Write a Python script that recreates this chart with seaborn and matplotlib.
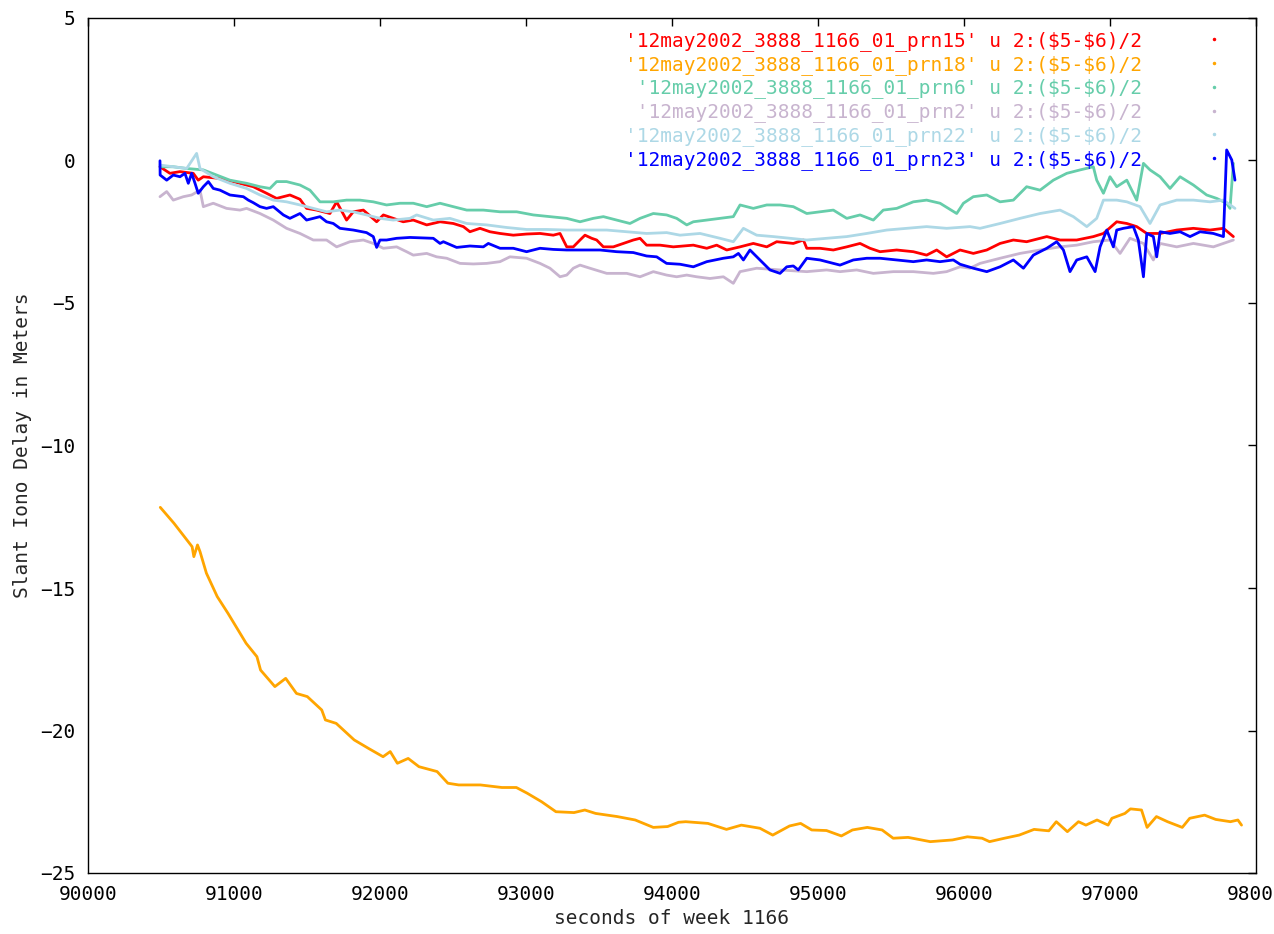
import seaborn as sns
import pandas as pd
from matplotlib import pyplot as plt
from matplotlib.lines import Line2D

sns.set_style("white")
plt.rcParams["font.family"] = ["DejaVu Sans Mono", "DejaVu Sans"]

# series names as they appear in the key (leading space keeps them right-aligned)
names = [r"'12may2002_3888_1166_01_prn15' u 2:(\$5-\$6)/2",
         r"'12may2002_3888_1166_01_prn18' u 2:(\$5-\$6)/2",
         r" '12may2002_3888_1166_01_prn6' u 2:(\$5-\$6)/2",
         r" '12may2002_3888_1166_01_prn2' u 2:(\$5-\$6)/2",
         r"'12may2002_3888_1166_01_prn22' u 2:(\$5-\$6)/2",
         r"'12may2002_3888_1166_01_prn23' u 2:(\$5-\$6)/2"]
colors = ["#ff0000", "#ffa500", "#66cdaa", "#c8b4cf", "#add8e6", "#0000ff"]

# prn15 (red)
t15 = [90493, 90561, 90630, 90721, 90755, 90790, 90904, 90995, 91086, 91132, 91223, 91292, 91383, 91452,
       91497, 91566, 91657, 91703, 91771, 91817, 91886, 91977, 92023, 92091, 92159, 92228, 92320, 92411,
       92502, 92571, 92616, 92685, 92753, 92822, 92913, 93004, 93096, 93187, 93233, 93279, 93324, 93370,
       93404, 93450, 93484, 93530, 93598, 93667, 93735, 93781, 93826, 93918, 94009, 94146, 94238, 94306,
       94375, 94466, 94557, 94649, 94717, 94831, 94900, 94923, 95014, 95105, 95197, 95288, 95356, 95425,
       95539, 95653, 95744, 95813, 95881, 95973, 96064, 96156, 96247, 96338, 96429, 96567, 96658, 96772,
       96886, 96955, 97046, 97115, 97183, 97252, 97343, 97457, 97571, 97685, 97777, 97845]
y15 = [-0.22, -0.45, -0.39, -0.45, -0.69, -0.57, -0.63, -0.74, -0.86, -0.92, -1.15, -1.33, -1.21, -1.36,
       -1.68, -1.74, -1.86, -1.45, -2.09, -1.80, -1.74, -2.15, -1.91, -2.03, -2.15, -2.09, -2.26, -2.15,
       -2.21, -2.32, -2.50, -2.38, -2.50, -2.56, -2.62, -2.58, -2.56, -2.62, -2.56, -3.03, -3.03, -2.79,
       -2.62, -2.73, -2.79, -3.03, -3.03, -2.91, -2.79, -2.73, -2.97, -2.97, -3.03, -2.97, -3.08, -2.97,
       -3.14, -3.03, -2.91, -3.03, -2.85, -2.91, -2.79, -3.08, -3.08, -3.14, -3.03, -2.91, -3.08, -3.20,
       -3.14, -3.20, -3.32, -3.14, -3.38, -3.14, -3.26, -3.14, -2.91, -2.79, -2.85, -2.67, -2.79, -2.79,
       -2.67, -2.56, -2.15, -2.21, -2.32, -2.56, -2.56, -2.44, -2.38, -2.44, -2.38, -2.67]

# prn18 (orange)
t18 = [90495, 90589, 90713, 90725, 90750, 90767, 90811, 90885, 90959, 91083, 91157, 91182, 91280, 91354,
       91428, 91502, 91601, 91626, 91700, 91823, 91922, 92021, 92070, 92119, 92193, 92267, 92391, 92465,
       92539, 92687, 92835, 92934, 93008, 93107, 93205, 93329, 93403, 93477, 93625, 93748, 93872, 93970,
       94045, 94094, 94246, 94373, 94475, 94602, 94690, 94805, 94881, 94957, 95058, 95160, 95236, 95338,
       95439, 95515, 95617, 95769, 95921, 96023, 96124, 96175, 96277, 96378, 96480, 96581, 96632, 96708,
       96784, 96835, 96911, 96987, 97013, 97102, 97140, 97216, 97254, 97318, 97394, 97495, 97546, 97648,
       97724, 97825, 97876, 97901]
y18 = [-12.17, -12.73, -13.55, -13.90, -13.49, -13.72, -14.48, -15.30, -15.89, -16.94, -17.41, -17.88,
       -18.46, -18.17, -18.70, -18.81, -19.28, -19.63, -19.75, -20.33, -20.63, -20.92, -20.74, -21.15,
       -20.98, -21.27, -21.44, -21.85, -21.91, -21.91, -22.00, -22.00, -22.20, -22.50, -22.85, -22.88,
       -22.79, -22.91, -23.02, -23.14, -23.40, -23.37, -23.22, -23.20, -23.26, -23.47, -23.32, -23.43,
       -23.67, -23.35, -23.26, -23.49, -23.51, -23.70, -23.49, -23.40, -23.49, -23.78, -23.75, -23.90,
       -23.84, -23.73, -23.78, -23.90, -23.78, -23.67, -23.47, -23.52, -23.20, -23.55, -23.20, -23.32,
       -23.14, -23.32, -23.08, -22.91, -22.75, -22.79, -23.40, -23.02, -23.20, -23.40, -23.08, -22.97,
       -23.12, -23.20, -23.14, -23.32]

# prn6 (green)
t6 = [90493, 90584, 90676, 90790, 90881, 90972, 91086, 91178, 91246, 91292, 91360, 91452, 91520, 91589,
      91680, 91771, 91862, 91954, 92045, 92137, 92228, 92320, 92411, 92502, 92594, 92708, 92822, 92936,
      93050, 93164, 93279, 93370, 93461, 93530, 93621, 93712, 93781, 93872, 93963, 94032, 94101, 94146,
      94238, 94329, 94420, 94466, 94557, 94649, 94740, 94831, 94923, 95014, 95105, 95197, 95288, 95379,
      95447, 95539, 95653, 95744, 95836, 95950, 95996, 96064, 96156, 96247, 96338, 96429, 96521, 96612,
      96704, 96795, 96886, 96909, 96955, 97000, 97046, 97115, 97183, 97229, 97274, 97343, 97411, 97480,
      97571, 97662, 97731, 97799, 97822, 97845]
y6 = [-0.22, -0.22, -0.28, -0.33, -0.51, -0.69, -0.80, -0.92, -0.98, -0.74, -0.74, -0.86, -1.04, -1.45,
      -1.45, -1.39, -1.39, -1.45, -1.56, -1.50, -1.50, -1.62, -1.50, -1.62, -1.74, -1.74, -1.80, -1.80,
      -1.91, -1.97, -2.03, -2.15, -2.03, -1.97, -2.09, -2.21, -2.03, -1.86, -1.91, -2.03, -2.26, -2.15,
      -2.09, -2.03, -1.97, -1.56, -1.68, -1.56, -1.56, -1.62, -1.86, -1.80, -1.74, -2.03, -1.91, -2.09,
      -1.74, -1.68, -1.45, -1.39, -1.50, -1.86, -1.50, -1.27, -1.21, -1.45, -1.39, -0.92, -1.04, -0.69,
      -0.45, -0.33, -0.22, -0.69, -1.15, -0.57, -0.92, -0.69, -1.39, -0.10, -0.33, -0.57, -0.98, -0.57,
      -0.86, -1.21, -1.33, -1.50, -1.68, -0.10]

# prn2 (lavender)
t2 = [90493, 90539, 90584, 90653, 90710, 90767, 90790, 90858, 90949, 91041, 91086, 91178, 91269, 91360,
      91452, 91543, 91634, 91703, 91794, 91886, 91954, 92023, 92114, 92182, 92228, 92320, 92388, 92457,
      92548, 92639, 92731, 92822, 92890, 93004, 93096, 93164, 93233, 93279, 93324, 93370, 93438, 93553,
      93690, 93781, 93872, 93963, 94032, 94101, 94169, 94260, 94352, 94420, 94466, 94580, 94740, 94923,
      95059, 95151, 95265, 95379, 95516, 95653, 95790, 95881, 95973, 96041, 96110, 96247, 96384, 96521,
      96658, 96772, 96886, 97000, 97069, 97137, 97229, 97297, 97343, 97457, 97571, 97708, 97845]
y2 = [-1.27, -1.09, -1.39, -1.27, -1.21, -1.04, -1.62, -1.50, -1.68, -1.74, -1.68, -1.86, -2.09, -2.38,
      -2.56, -2.79, -2.79, -3.03, -2.85, -2.79, -2.91, -3.08, -3.03, -3.20, -3.32, -3.26, -3.38, -3.43,
      -3.61, -3.63, -3.61, -3.55, -3.38, -3.43, -3.61, -3.78, -4.08, -4.02, -3.78, -3.67, -3.78, -3.96,
      -3.96, -4.08, -3.90, -4.02, -4.08, -4.02, -4.08, -4.14, -4.08, -4.31, -3.90, -3.78, -3.84, -3.90,
      -3.84, -3.90, -3.84, -3.96, -3.90, -3.90, -3.96, -3.90, -3.73, -3.78, -3.61, -3.43, -3.26, -3.14,
      -3.03, -2.97, -2.85, -2.79, -3.26, -2.73, -2.91, -3.49, -2.91, -3.03, -2.91, -3.03, -2.79]

# prn22 (light blue)
t22 = [90493, 90584, 90676, 90744, 90767, 90858, 90972, 91086, 91178, 91269, 91360, 91452, 91543, 91634,
       91726, 91817, 91908, 92000, 92091, 92205, 92251, 92365, 92479, 92594, 92731, 92867, 93004, 93141,
       93279, 93416, 93553, 93690, 93826, 93963, 94055, 94192, 94329, 94420, 94489, 94580, 94694, 94809,
       94923, 95059, 95197, 95334, 95471, 95608, 95744, 95881, 96041, 96110, 96247, 96384, 96521, 96658,
       96749, 96841, 96909, 96955, 97046, 97115, 97206, 97274, 97343, 97457, 97571, 97685, 97777, 97856]
y22 = [-0.16, -0.22, -0.28, 0.25, -0.28, -0.57, -0.80, -0.98, -1.21, -1.39, -1.45, -1.56, -1.68, -1.80,
       -1.74, -1.80, -1.91, -2.03, -2.09, -2.03, -1.91, -2.09, -2.03, -2.21, -2.26, -2.35, -2.42, -2.42,
       -2.44, -2.44, -2.44, -2.50, -2.56, -2.53, -2.62, -2.56, -2.73, -2.85, -2.38, -2.62, -2.67, -2.73,
       -2.79, -2.73, -2.67, -2.56, -2.44, -2.38, -2.32, -2.38, -2.32, -2.38, -2.21, -2.03, -1.86, -1.74,
       -1.97, -2.32, -2.03, -1.39, -1.39, -1.45, -1.62, -2.21, -1.56, -1.39, -1.39, -1.45, -1.39, -1.68]

# prn23 (blue)
t23 = [90493, 90494, 90539, 90584, 90630, 90664, 90687, 90710, 90733, 90755, 90790, 90824, 90858, 90904,
       90972, 91064, 91098, 91132, 91178, 91223, 91269, 91338, 91383, 91452, 91497, 91589, 91634, 91680,
       91726, 91817, 91908, 91954, 91977, 92000, 92045, 92114, 92205, 92365, 92411, 92434, 92525, 92616,
       92708, 92742, 92822, 92913, 93004, 93096, 93187, 93279, 93393, 93507, 93621, 93735, 93826, 93895,
       93963, 94055, 94146, 94238, 94352, 94420, 94455, 94489, 94534, 94569, 94626, 94671, 94740, 94786,
       94831, 94865, 94923, 95014, 95105, 95151, 95242, 95334, 95425, 95539, 95653, 95744, 95836, 95927,
       95973, 96064, 96156, 96247, 96338, 96407, 96475, 96567, 96635, 96681, 96726, 96772, 96841, 96898,
       96932, 96978, 97023, 97046, 97092, 97160, 97194, 97229, 97252, 97297, 97320, 97343, 97411, 97480,
       97548, 97617, 97708, 97777, 97799, 97834, 97856]
y23 = [-0.01, -0.51, -0.69, -0.51, -0.57, -0.45, -0.80, -0.45, -0.80, -1.15, -0.92, -0.74, -0.98, -1.04,
       -1.21, -1.27, -1.39, -1.48, -1.62, -1.68, -1.62, -1.91, -2.03, -1.86, -2.09, -1.97, -2.15, -2.21,
       -2.38, -2.44, -2.53, -2.67, -3.05, -2.79, -2.79, -2.73, -2.70, -2.73, -2.91, -2.85, -3.05, -3.00,
       -3.03, -2.91, -3.08, -3.08, -3.20, -3.08, -3.12, -3.14, -3.14, -3.14, -3.20, -3.23, -3.35, -3.38,
       -3.61, -3.64, -3.73, -3.55, -3.43, -3.38, -3.26, -3.49, -3.14, -3.32, -3.61, -3.84, -3.96, -3.73,
       -3.70, -3.84, -3.43, -3.49, -3.61, -3.67, -3.49, -3.43, -3.43, -3.49, -3.55, -3.49, -3.55, -3.49,
       -3.64, -3.78, -3.90, -3.73, -3.49, -3.78, -3.32, -3.08, -2.85, -3.14, -3.90, -3.49, -3.38, -3.90,
       -3.03, -2.44, -3.03, -2.44, -2.38, -2.32, -2.79, -4.08, -2.56, -2.67, -3.38, -2.50, -2.56, -2.50,
       -2.67, -2.50, -2.56, -2.67, 0.37, 0.02, -0.69]

xticks = list(range(90000, 98001, 1000))
yticks = list(range(-25, 6, 5))

series_t = [t15, t18, t6, t2, t22, t23]
series_y = [y15, y18, y6, y2, y22, y23]
frames = []
for name, t, y in zip(names, series_t, series_y):
    frames.append(pd.DataFrame({"t": t, "delay": y, "series": name}))
df = pd.concat(frames, ignore_index=True)

fig = plt.figure(figsize=(12.74, 9.34), dpi=100)
ax = fig.add_axes([88 / 1274, 1 - 873 / 934, 1168 / 1274, 855 / 934])

sns.lineplot(data=df, x="t", y="delay", hue="series", hue_order=names,
             palette=dict(zip(names, colors)), estimator=None, sort=False,
             linewidth=2.0, legend=False, ax=ax)

ax.set_xlim(90000, 98000)
ax.set_ylim(-25, 5)
ax.set_xticks(xticks)
ax.set_yticks(yticks)
ax.tick_params(direction="in", length=6, width=1, top=True, right=True,
               labelsize=14, pad=9, colors="black")
for s in ax.spines.values():
    s.set_color("black")
    s.set_linewidth(1)

ax.set_xlabel("seconds of week 1166", fontsize=14)
ax.set_ylabel("Slant Iono Delay in Meters", fontsize=14)
ax.xaxis.set_label_coords(0.5, -0.042)
ax.yaxis.set_label_coords(-0.048, 0.5)

handles = [Line2D([], [], color=c, marker=".", markersize=3, linestyle="none") for c in colors]
ax.legend(handles, names, loc="upper right", bbox_to_anchor=(0.987, 0.994),
          frameon=False, markerfirst=False, fontsize=14, labelcolor="linecolor",
          handlelength=2, handletextpad=2.7, labelspacing=0.2, borderaxespad=0)

plt.savefig("out.png", dpi=100)
